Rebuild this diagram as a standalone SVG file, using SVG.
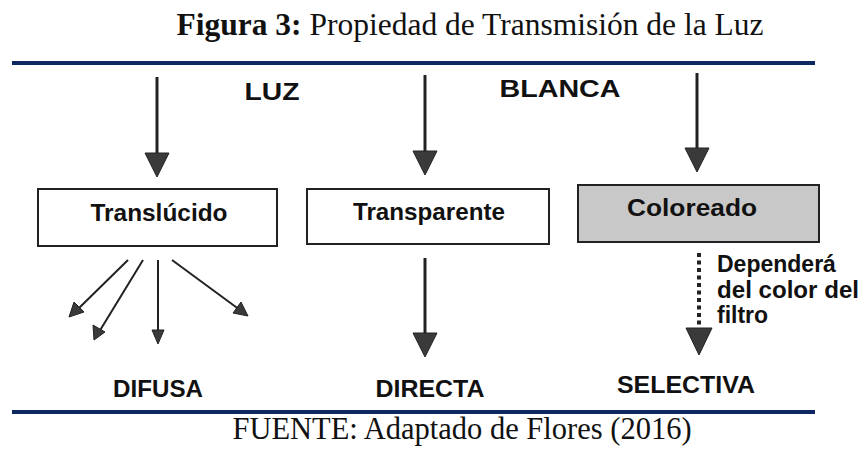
<svg xmlns="http://www.w3.org/2000/svg" width="864" height="450" viewBox="0 0 864 450">
<style>
.title{font-family:"Liberation Serif","Times New Roman",serif;font-size:31.5px;fill:#111}
.foot{font-family:"Liberation Serif","Times New Roman",serif;font-size:30.5px;fill:#111}
.lbl{font-family:"Liberation Sans",Arial,sans-serif;font-weight:bold;font-size:23px;fill:#111}
.box{fill:#fff;stroke:#222;stroke-width:2}
.gray{fill:#c8c8c8;stroke:#222;stroke-width:2}
.rule{stroke:#0d2860;stroke-width:4}
.thick{stroke:#222;stroke-width:3;fill:none}
.thin{stroke:#222;stroke-width:2;fill:none}
.dot{stroke:#222;stroke-width:4;stroke-dasharray:4 3.5;fill:none}
.head{fill:#3a3a3a;stroke:#222;stroke-width:1}
</style>
<rect width="864" height="450" fill="#fff"/>
<text class="title" x="470" y="35" text-anchor="middle"><tspan font-weight="bold">Figura 3:</tspan> Propiedad de Transmisión de la Luz</text>
<line class="rule" x1="12" y1="63" x2="815" y2="63"/>
<line class="rule" x1="12" y1="412" x2="815" y2="412"/>
<text class="foot" x="462" y="439" text-anchor="middle">FUENTE: Adaptado de Flores (2016)</text>

<g id="label-luz"><text class="lbl" x="272" y="100" text-anchor="middle" font-size="25" textLength="55" lengthAdjust="spacingAndGlyphs">LUZ</text></g>
<g id="label-blanca"><text class="lbl" x="560" y="97" text-anchor="middle" font-size="25" textLength="121" lengthAdjust="spacingAndGlyphs">BLANCA</text></g>

<g id="node-translucido">
<rect class="box" x="38" y="189" width="239" height="57"/>
<text class="lbl" x="159" y="221" text-anchor="middle" textLength="137" lengthAdjust="spacingAndGlyphs">Translúcido</text>
</g>
<g id="node-transparente">
<rect class="box" x="307" y="189" width="242" height="55"/>
<text class="lbl" x="429" y="220" text-anchor="middle" textLength="152" lengthAdjust="spacingAndGlyphs">Transparente</text>
</g>
<g id="node-coloreado">
<rect class="gray" x="578" y="185" width="241" height="57"/>
<text class="lbl" x="692" y="216" text-anchor="middle" textLength="130" lengthAdjust="spacingAndGlyphs">Coloreado</text>
</g>

<g id="label-difusa"><text class="lbl" x="158" y="397" text-anchor="middle" textLength="90" lengthAdjust="spacingAndGlyphs">DIFUSA</text></g>
<g id="label-directa"><text class="lbl" x="430" y="397" text-anchor="middle" textLength="109" lengthAdjust="spacingAndGlyphs">DIRECTA</text></g>
<g id="label-selectiva"><text class="lbl" x="686" y="393" text-anchor="middle" textLength="138" lengthAdjust="spacingAndGlyphs">SELECTIVA</text></g>
<g id="label-filtro">
<text class="lbl" x="717" y="272" font-size="22">Dependerá</text>
<text class="lbl" x="717" y="298" font-size="22" textLength="142" lengthAdjust="spacingAndGlyphs">del color del</text>
<text class="lbl" x="717" y="323" font-size="22">filtro</text>
</g>

<g id="connectors">
<line class="thick" x1="157" y1="77" x2="157" y2="155"/>
<polygon class="head" points="145,153 169,153 157,177"/>
<line class="thick" x1="425" y1="75" x2="425" y2="153"/>
<polygon class="head" points="413,151 437,151 425,175"/>
<line class="thick" x1="697" y1="73" x2="697" y2="150"/>
<polygon class="head" points="685,148 709,148 697,172"/>

<line class="thin" x1="128" y1="260" x2="77" y2="310"/>
<polygon class="head" points="69,317 74,302 84,312"/>
<line class="thin" x1="143" y1="260" x2="99" y2="332"/>
<polygon class="head" points="94,340 93,325 105,332"/>
<line class="thin" x1="158" y1="260" x2="158" y2="332"/>
<polygon class="head" points="152,330 164,330 158,344"/>
<line class="thin" x1="172" y1="260" x2="240" y2="310"/>
<polygon class="head" points="248,316 233,313 241,302"/>

<line class="thick" x1="425" y1="258" x2="425" y2="335"/>
<polygon class="head" points="413,333 437,333 425,357"/>
<line class="dot" x1="699" y1="253" x2="699" y2="329"/>
<polygon class="head" points="686,328 712,328 699,355"/>
</g>
</svg>
